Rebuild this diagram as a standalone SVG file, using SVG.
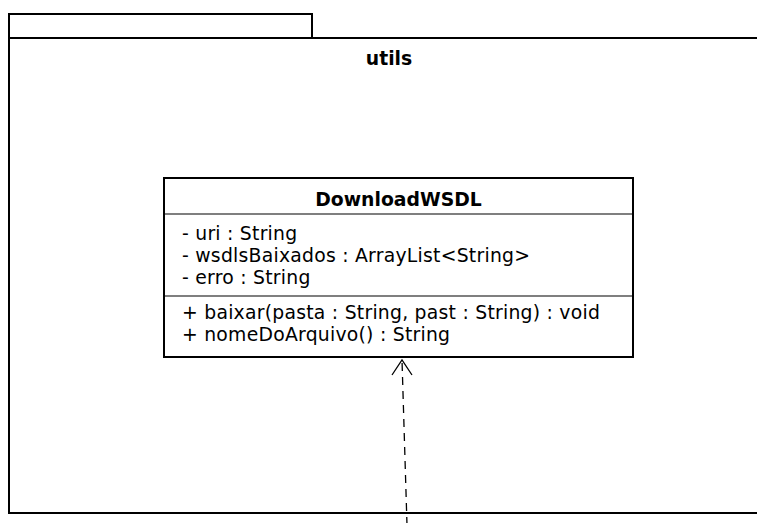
<svg xmlns="http://www.w3.org/2000/svg" width="757" height="523" viewBox="0 0 757 523">
<style>
.frame{fill:#fff;stroke:#000;stroke-width:2}
.sep{stroke:#000;stroke-width:1.2}
.t{font-family:"DejaVu Sans",sans-serif;font-size:18.8px;fill:#000}
.m{letter-spacing:0.25px}
.b{font-weight:bold}
.dep{fill:none;stroke:#000;stroke-width:1.3}
</style>
<rect width="757" height="523" fill="#fff"/>
<g id="utils">
<rect class="frame" x="9" y="14" width="303" height="24"/>
<rect class="frame" x="9" y="38" width="770" height="475"/>
<text class="t b" x="389" y="65" text-anchor="middle">utils</text>
</g>
<g id="DownloadWSDL">
<rect class="frame" x="164" y="178" width="469" height="179"/>
<line class="sep" x1="164" y1="214" x2="633" y2="214"/>
<line class="sep" x1="164" y1="296" x2="633" y2="296"/>
<text class="t b" x="398.5" y="206" text-anchor="middle">DownloadWSDL</text>
<text class="t m" x="182" y="240">- uri : String</text>
<text class="t m" x="182" y="262">- wsdlsBaixados : ArrayList&lt;String&gt;</text>
<text class="t m" x="182" y="284">- erro : String</text>
<text class="t m" x="182" y="318.5">+ baixar(pasta : String, past : String) : void</text>
<text class="t m" x="182" y="341">+ nomeDoArquivo() : String</text>
</g>
<g id="connectors">
<line class="dep" x1="407" y1="525" x2="402" y2="360" stroke-dasharray="8,6"/>
<polyline class="dep" points="392,375 402,360 412,375"/>
</g>
</svg>
